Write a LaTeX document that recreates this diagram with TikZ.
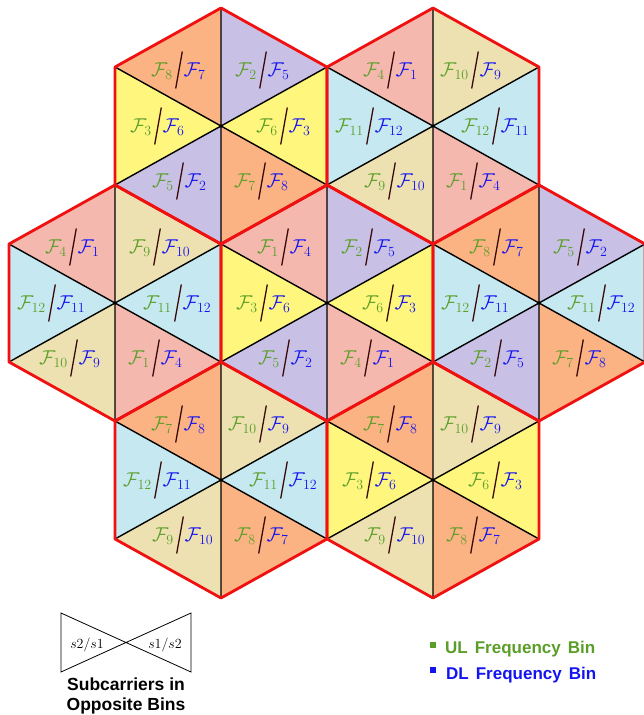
\RequirePackage{fix-cm}
\documentclass[tikz,border=0pt]{standalone}
\usepackage{fontspec}
\setsansfont{Liberation Sans}
\usetikzlibrary{calc}
\definecolor{pinkc}{HTML}{F4B8AE}
\definecolor{orngc}{HTML}{FBB383}
\definecolor{lavc}{HTML}{C8C0E5}
\definecolor{yelc}{HTML}{FFF67E}
\definecolor{beigec}{HTML}{EEE1B1}
\definecolor{lbluec}{HTML}{C5E8F1}
\definecolor{ulgreen}{HTML}{5A9E28}
\definecolor{dlblue}{HTML}{1414F0}
\definecolor{slashc}{HTML}{3A0A0A}
\definecolor{hexred}{HTML}{F01010}
\tikzset{
  ulabel/.style={text=ulgreen, inner sep=0pt, font=\fontsize{20}{24}\selectfont, anchor=base east},
  dlabel/.style={text=dlblue, inner sep=0pt, font=\fontsize{20}{24}\selectfont, anchor=base west},
  slashline/.style={draw=slashc, line width=1.3pt},
  gridline/.style={draw=black, line width=1.4pt},
  hexline/.style={draw=hexred, line width=2.8pt, line join=round},
  bowline/.style={draw=black, line width=0.8pt, line join=miter},
  legsq/.style={inner sep=0pt, minimum size=6pt},
  legtext/.style={inner sep=0pt, anchor=base west, font=\sffamily\bfseries\fontsize{17}{20}\selectfont},
  captext/.style={inner sep=0pt, anchor=base, font=\sffamily\bfseries\fontsize{17.5}{21}\selectfont}
}
% #1 hex, #2 #3 outer vertices, #4 #5 label offset, #6 fill, #7 UL index, #8 DL index
\newcommand\tricell[8]{%
  \fill[#6] (#1) -- (#1-#2) -- (#1-#3) -- cycle;
  \coordinate (#1-#2-#3) at ($(#1)+(#4,#5)$);
  \node[ulabel] (#1-#2-#3-u) at ($(#1-#2-#3)+(-6,6)$) {$\mathcal{F}_{#7}$};
  \node[dlabel] (#1-#2-#3-d) at ($(#1-#2-#3)+(4.5,6)$) {$\mathcal{F}_{#8}$};
  \draw[slashline] ($(#1-#2-#3)+(-3.3,18.5)$) -- ($(#1-#2-#3)+(3.3,-18.5)$);
}
\newcommand\cellTR[4]{\tricell{#1}{T}{UR}{42}{-56}{#2}{#3}{#4}}
\newcommand\cellR[4]{\tricell{#1}{UR}{LR}{63}{0}{#2}{#3}{#4}}
\newcommand\cellBR[4]{\tricell{#1}{LR}{B}{41}{55}{#2}{#3}{#4}}
\newcommand\cellBL[4]{\tricell{#1}{B}{LL}{-41}{55}{#2}{#3}{#4}}
\newcommand\cellL[4]{\tricell{#1}{LL}{UL}{-63}{0}{#2}{#3}{#4}}
\newcommand\cellTL[4]{\tricell{#1}{UL}{T}{-42}{-56}{#2}{#3}{#4}}
\begin{document}
\begin{tikzpicture}[x=1pt,y=-1pt]
\useasboundingbox (0,0) rectangle (644,715);
\foreach \n/\x/\y in {C/327/303, L/115/303, R/539/303, TL/221/126, TR/433/126, BL/221/480, BR/433/480}{
  \coordinate (\n) at (\x,\y);
  \coordinate (\n-T) at (\x,\y-118);
  \coordinate (\n-UR) at (\x+106,\y-59);
  \coordinate (\n-LR) at (\x+106,\y+59);
  \coordinate (\n-B) at (\x,\y+118);
  \coordinate (\n-LL) at (\x-106,\y+59);
  \coordinate (\n-UL) at (\x-106,\y-59);
}
% centre
\cellTL{C}{pinkc}{1}{4} \cellTR{C}{lavc}{2}{5} \cellR{C}{yelc}{6}{3}
\cellBR{C}{pinkc}{4}{1} \cellBL{C}{lavc}{5}{2} \cellL{C}{yelc}{3}{6}
% top left
\cellTL{TL}{orngc}{8}{7} \cellTR{TL}{lavc}{2}{5} \cellR{TL}{yelc}{6}{3}
\cellBR{TL}{orngc}{7}{8} \cellBL{TL}{lavc}{5}{2} \cellL{TL}{yelc}{3}{6}
% top right
\cellTL{TR}{pinkc}{4}{1} \cellTR{TR}{beigec}{10}{9} \cellR{TR}{lbluec}{12}{11}
\cellBR{TR}{pinkc}{1}{4} \cellBL{TR}{beigec}{9}{10} \cellL{TR}{lbluec}{11}{12}
% left
\cellTL{L}{pinkc}{4}{1} \cellTR{L}{beigec}{9}{10} \cellR{L}{lbluec}{11}{12}
\cellBR{L}{pinkc}{1}{4} \cellBL{L}{beigec}{10}{9} \cellL{L}{lbluec}{12}{11}
% right
\cellTL{R}{orngc}{8}{7} \cellTR{R}{lavc}{5}{2} \cellR{R}{lbluec}{11}{12}
\cellBR{R}{orngc}{7}{8} \cellBL{R}{lavc}{2}{5} \cellL{R}{lbluec}{12}{11}
% bottom left
\cellTL{BL}{orngc}{7}{8} \cellTR{BL}{beigec}{10}{9} \cellR{BL}{lbluec}{11}{12}
\cellBR{BL}{orngc}{8}{7} \cellBL{BL}{beigec}{9}{10} \cellL{BL}{lbluec}{12}{11}
% bottom right
\cellTL{BR}{orngc}{7}{8} \cellTR{BR}{beigec}{10}{9} \cellR{BR}{yelc}{6}{3}
\cellBR{BR}{orngc}{8}{7} \cellBL{BR}{beigec}{9}{10} \cellL{BR}{yelc}{3}{6}
% grid lines
\foreach \n in {C,L,R,TL,TR,BL,BR}{
  \draw[gridline] (\n-T) -- (\n-B) (\n-UL) -- (\n-LR) (\n-UR) -- (\n-LL);
}
\foreach \n in {C,L,R,TL,TR,BL,BR}{
  \draw[hexline] (\n-T) -- (\n-UR) -- (\n-LR) -- (\n-B) -- (\n-LL) -- (\n-UL) -- cycle;
}
% bow-tie legend
\coordinate (bw-tl) at (61,613);
\coordinate (bw-bl) at (61,672);
\coordinate (bw-tr) at (191,613);
\coordinate (bw-br) at (191,672);
\draw[bowline] (bw-tl) -- (bw-br) -- (bw-tr) -- (bw-bl) -- cycle;
\node[inner sep=0pt, font=\fontsize{14}{16}\selectfont] (bw-left) at (87,645) {$s2/s1$};
\node[inner sep=0pt, font=\fontsize{14}{16}\selectfont] (bw-right) at (165,645) {$s1/s2$};
\node[captext] (cap1) at (126,690) {Subcarriers in};
\node[captext] (cap2) at (126,710) {Opposite Bins};
% colour legend
\node[legsq, fill=ulgreen] (sq-ul) at (433,645) {};
\node[legsq, fill=dlblue] (sq-dl) at (433,670) {};
\node[legtext, text=ulgreen] (txt-ul) at (445,653) {UL\hspace{7pt}Frequency\hspace{7pt}Bin};
\node[legtext, text=dlblue] (txt-dl) at (446,679) {DL\hspace{7pt}Frequency\hspace{7pt}Bin};
\end{tikzpicture}
\end{document}
